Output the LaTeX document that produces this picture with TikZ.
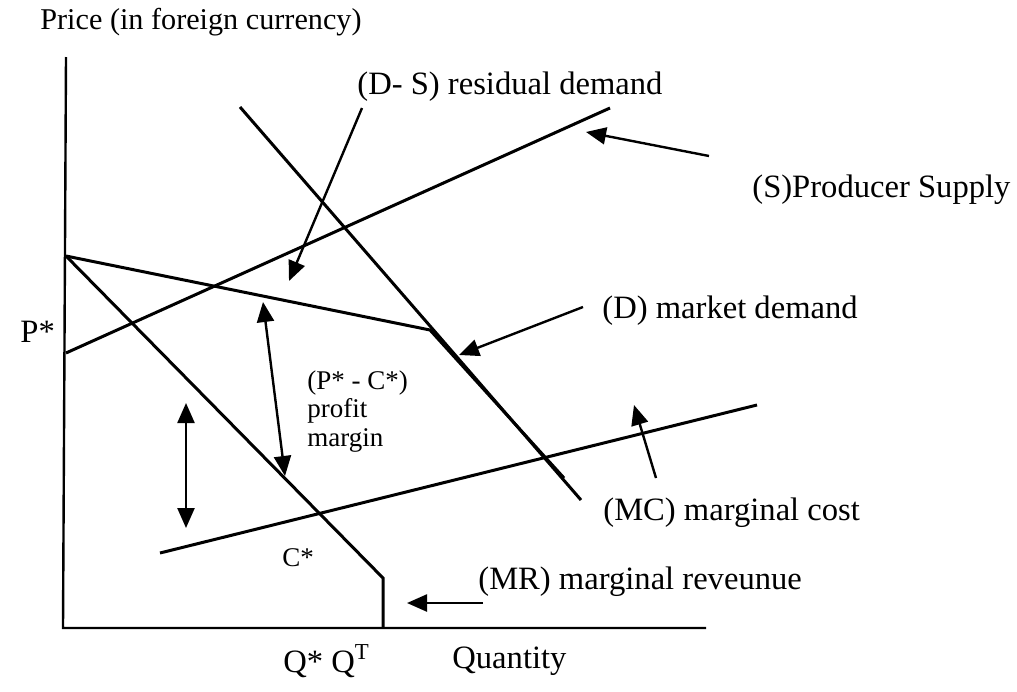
\documentclass[tikz,border=0pt]{standalone}
\usepackage{fontspec}
\setmainfont{Liberation Serif}
\usetikzlibrary{arrows.meta}

\begin{document}
\begin{tikzpicture}[
  x=0.5pt,y=-0.5pt,
  axis/.style={line width=1.2pt,black},
  curve/.style={line width=1.5pt,black},
  pointer/.style={-{Triangle[length=10pt,width=8.5pt]},line width=1.2pt},
  both/.style={{Triangle[length=10pt,width=8.5pt]}-{Triangle[length=10pt,width=8.5pt]},line width=1.2pt},
  lbl/.style={anchor=west,inner sep=0pt,font=\fontsize{16.3}{19}\selectfont},
  small/.style={anchor=west,inner sep=0pt,font=\fontsize{13.5}{16}\selectfont}
]
  \useasboundingbox (0,0) rectangle (1017,691);

  \coordinate (ytop) at (66,57);
  \coordinate (o) at (63,628);
  \coordinate (xend) at (706,628);
  \coordinate (pk) at (66,256);
  \coordinate (kink) at (430,330);
  \coordinate (dend) at (564,478);
  \coordinate (rtop) at (240,107);
  \coordinate (rend) at (581,500);
  \coordinate (s0) at (66,353);
  \coordinate (s1) at (610,108);
  \coordinate (mrk) at (383,578);
  \coordinate (mrq) at (383,628);
  \coordinate (mc0) at (160,553);
  \coordinate (mc1) at (757,405);

  \draw[axis] (ytop)--(o)--(xend);
  \draw[curve] (rtop)--(rend);
  \draw[curve] (pk)--(kink)--(dend);
  \draw[curve] (s0)--(s1);
  \draw[curve] (pk)--(mrk)--(mrq);
  \draw[curve] (mc0)--(mc1);

  \node[lbl,font=\fontsize{15.1}{18}\selectfont] (title) at (40,22) {Price (in foreign currency)};
  \node[lbl] (pstar) at (20,332) {P*};
  \node[lbl] (resid) at (357,87) {(D- S) residual demand};
  \node[lbl] (supply) at (752,190) {(S)Producer Supply};
  \node[lbl] (mkt) at (602,311) {(D) market demand};
  \node[small] (pc) at (307,383) {(P* - C*)};
  \node[small] (profit) at (307,411) {profit};
  \node[small] (margin) at (307,440) {margin};
  \node[lbl] (mc) at (603,513) {(MC) marginal cost};
  \node[small] (cstar) at (282,558) {C*};
  \node[lbl] (mr) at (478,582) {(MR) marginal reveunue};
  \node[lbl] (qq) at (283,661) {Q* Q\textsuperscript{T}};
  \node[lbl] (qty) at (452,661) {Quantity};

  \coordinate (a1) at (362,108);
  \coordinate (a1t) at (289,281);
  \coordinate (a2) at (709,156);
  \coordinate (a2t) at (586,132);
  \coordinate (a3) at (583,307);
  \coordinate (a3t) at (459,355);
  \coordinate (a4) at (263,302);
  \coordinate (a4t) at (285,476);
  \coordinate (a5) at (186,403);
  \coordinate (a5t) at (186,528);
  \coordinate (a6) at (656,478);
  \coordinate (a6t) at (634,405);
  \coordinate (a7) at (483,603);
  \coordinate (a7t) at (407,603);

  \draw[pointer] (a1)--(a1t);
  \draw[pointer] (a2)--(a2t);
  \draw[pointer] (a3)--(a3t);
  \draw[both] (a4)--(a4t);
  \draw[both] (a5)--(a5t);
  \draw[pointer] (a6)--(a6t);
  \draw[pointer] (a7)--(a7t);
\end{tikzpicture}
\end{document}
